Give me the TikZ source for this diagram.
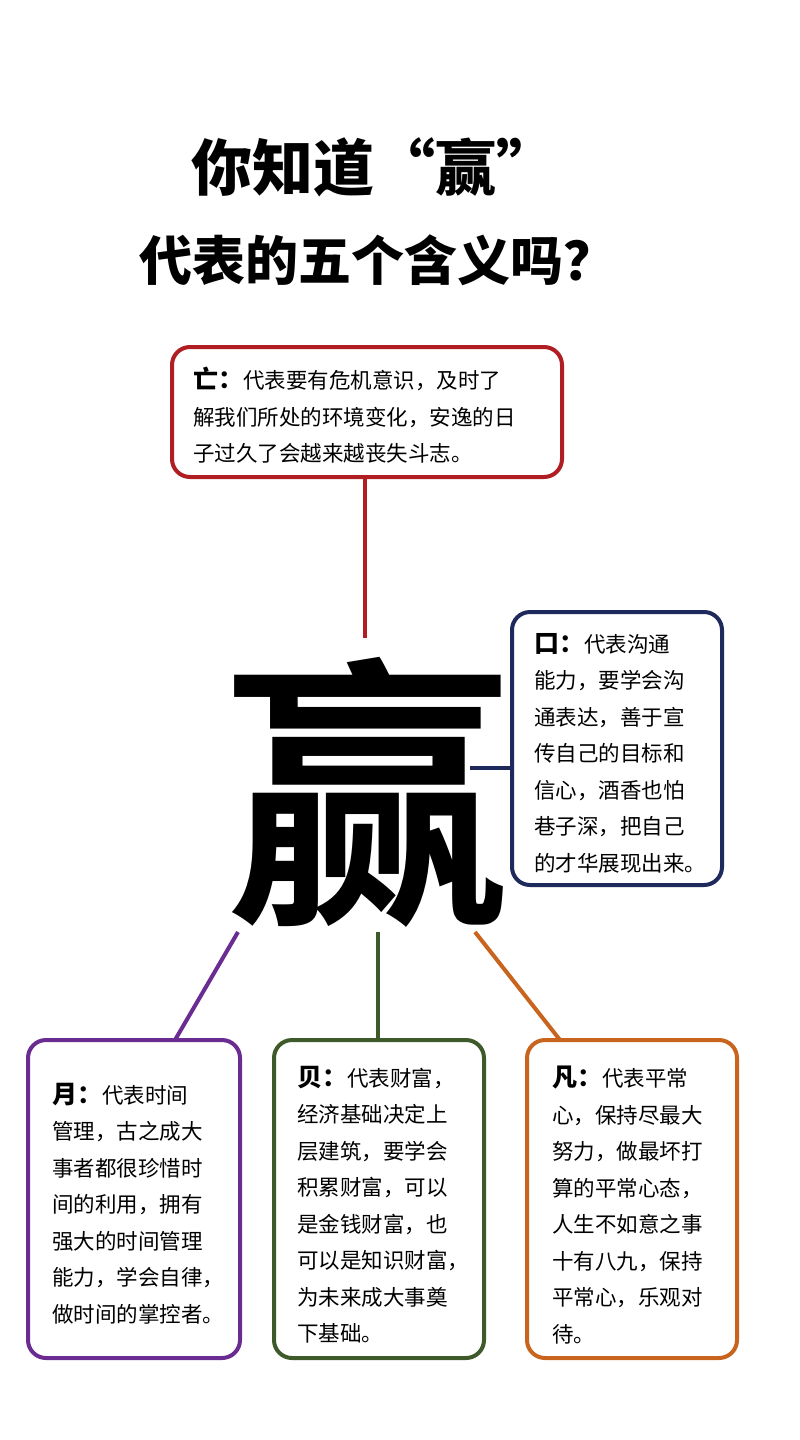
\documentclass[tikz,border=0pt]{standalone}
\usepackage{fontspec}
\newfontfamily\cjk{Noto Sans CJK SC}
\newfontfamily\cjkb{Noto Sans CJK SC Bold}
\newfontfamily\cjkk{Noto Sans CJK SC Black}
\definecolor{cred}{HTML}{B01E23}
\definecolor{cnavy}{HTML}{1F2A5C}
\definecolor{cpurple}{HTML}{6A2C91}
\definecolor{cgreen}{HTML}{3F5A2A}
\definecolor{corange}{HTML}{C8641E}
\begin{document}
\begin{tikzpicture}[x=1pt,y=-1pt,
  box/.style={draw=#1,line width=4pt,rounded corners=18pt},
  conn/.style={draw=#1,line width=4pt},
  txt/.style={anchor=north west,align=left,inner sep=0pt,font=\cjk\fontsize{21.5}{36.5}\selectfont}]
\useasboundingbox[fill=white] (0,0) rectangle (800,1440);
\node[font=\cjkk\fontsize{61}{60}\selectfont] (t1) at (374,167) {你知道“赢”};
\node[font=\cjkk\fontsize{53}{60}\selectfont] (t2) at (378,260) {代表的五个含义吗？};
% big char
\node[font=\cjkb\fontsize{285}{285}\selectfont,inner sep=0pt] (big) at (368,792) {赢};
% boxes
\draw[box=cred] (172,347) rectangle (562,477);
\draw[box=cnavy] (512,612) rectangle (722,885);
\draw[box=cpurple] (28,1040) rectangle (240,1358);
\draw[box=cgreen] (274,1040) rectangle (484,1358);
\draw[box=corange] (527,1040) rectangle (737,1358);
\coordinate (r1) at (365,477); \coordinate (r2) at (365,638);
\coordinate (n1) at (470,768); \coordinate (n2) at (512,768);
\coordinate (p1) at (238,932); \coordinate (p2) at (175,1040);
\coordinate (g1) at (378,932); \coordinate (g2) at (378,1040);
\coordinate (o1) at (475,932); \coordinate (o2) at (560,1040);
\draw[conn=cred] (r1) -- (r2);
\draw[conn=cnavy] (n1) -- (n2);
\draw[conn=cpurple] (p1) -- (p2);
\draw[conn=cgreen] (g1) -- (g2);
\draw[conn=corange] (o1) -- (o2);
% texts
\node[txt] (tr) at (193,367) {{\cjkk\fontsize{25}{37}\selectfont 亡：}代表要有危机意识，及时了\\解我们所处的环境变化，安逸的日\\子过久了会越来越丧失斗志。};
\node[txt] (tn) at (534,633) {{\cjkk\fontsize{25}{37}\selectfont 口：}代表沟通\\能力，要学会沟\\通表达，善于宣\\传自己的目标和\\信心，酒香也怕\\巷子深，把自己\\的才华展现出来。};
\node[txt] (tp) at (52,1083) {{\cjkk\fontsize{25}{37}\selectfont 月：}代表时间\\管理，古之成大\\事者都很珍惜时\\间的利用，拥有\\强大的时间管理\\能力，学会自律，\\做时间的掌控者。};
\node[txt] (tg) at (297,1066) {{\cjkk\fontsize{25}{37}\selectfont 贝：}代表财富，\\经济基础决定上\\层建筑，要学会\\积累财富，可以\\是金钱财富，也\\可以是知识财富，\\为未来成大事奠\\下基础。};
\node[txt] (to) at (552,1066) {{\cjkk\fontsize{25}{37}\selectfont 凡：}代表平常\\心，保持尽最大\\努力，做最坏打\\算的平常心态，\\人生不如意之事\\十有八九，保持\\平常心，乐观对\\待。};
\end{tikzpicture}
\end{document}
